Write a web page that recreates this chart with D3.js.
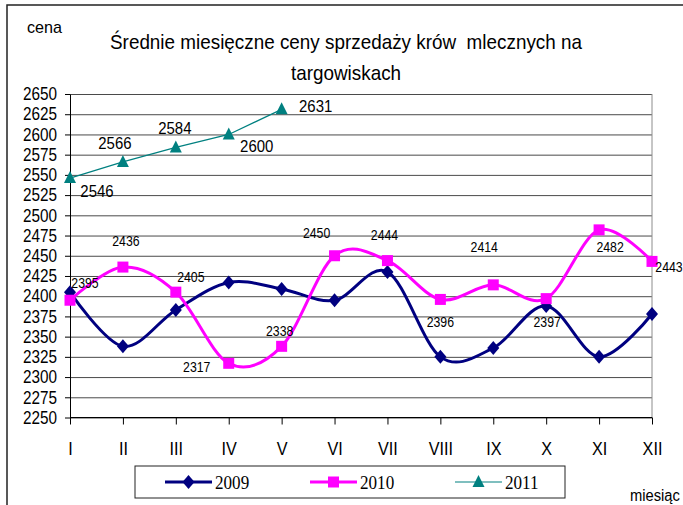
<!DOCTYPE html>
<html lang="pl">
<head>
<meta charset="UTF-8">
<title>Średnie miesięczne ceny sprzedaży krów mlecznych</title>
<script src="https://d3js.org/d3.v7.min.js"></script>
<style>
    body { margin: 0; background: #fff; }
    svg { display: block; }
    .grid line { stroke: #4a4a4a; stroke-width: 1px; }
    .grid path { display: none; }
    .axis path, .axis line { stroke: #000; stroke-width: 1px; }
</style>
</head>
<body>
<svg width="683" height="505"></svg>
<script>
    // dane
    const months = ["I", "II", "III", "IV", "V", "VI", "VII", "VIII", "IX", "X", "XI", "XII"];
    const v2009 = [2405, 2338, 2383, 2417, 2409, 2395, 2430, 2325, 2336, 2388, 2325, 2378];
    const v2010 = [2395, 2436, 2405, 2317, 2338, 2450, 2444, 2396, 2414, 2397, 2482, 2443];
    const v2011 = [2546, 2566, 2584, 2600, 2631];
    const yTicks = [2250, 2275, 2300, 2325, 2350, 2375, 2400, 2425, 2450, 2475, 2500, 2525, 2550, 2575, 2600, 2625, 2650];
    const seriesNames = ["2009", "2010", "2011"];

    // przesunięcia etykiet (ręcznie ustawione jak w Excelu)
    const off2010 = [[15, -17], [3, -26], [15, -15], [-32, 3], [-2, -16], [-18, -23], [-3, -26], [0, 22], [-9, -38], [1, 23], [11, 17], [17, 5]];
    const off2011 = [[27, 13], [-8, -19], [-1, -19], [28, 12], [34, -3]];

    const svg = d3.select("svg");
    const sans = "'Liberation Sans', Arial, sans-serif";

    function label(parent, x, y, str, o) {
        const g = parent.append("g")
            .attr("transform", `translate(${x},${y}) scale(${o.sx || 1},1)`);
        return g.append("text")
            .attr("text-anchor", o.anchor || "middle")
            .attr("dy", "0.35em")
            .style("font-family", o.family || sans)
            .style("font-size", o.size + "px")
            .style("fill", "#000")
            .text(str);
    }

    // ramka
    svg.append("rect")
        .attr("x", 7).attr("y", 5).attr("width", 720).attr("height", 540)
        .attr("fill", "none").attr("stroke", "#222").attr("stroke-width", 1.5);

    const x = d3.scalePoint().domain(months).range([70, 652]);
    const y = d3.scaleLinear().domain([2250, 2650]).range([417.5, 94]);

    // siatka
    svg.append("g")
        .attr("class", "grid")
        .attr("transform", "translate(70,0)")
        .call(d3.axisLeft(y).tickValues(yTicks).tickSize(-(652 - 70)).tickFormat(""));

    svg.append("line")
        .attr("x1", 652).attr("x2", 652).attr("y1", 94).attr("y2", 417.5)
        .attr("stroke", "#8c8c8c");

    // osie
    const yAxis = svg.append("g")
        .attr("class", "axis")
        .attr("transform", "translate(70,0)")
        .call(d3.axisLeft(y).tickValues(yTicks).tickSize(5).tickSizeOuter(0).tickFormat(d3.format("d")));
    yAxis.selectAll("text")
        .attr("x", -13 / 0.85)
        .attr("transform", "scale(0.85,1)")
        .style("font-family", sans)
        .style("font-size", "18px")
        .style("fill", "#000");

    const xAxis = svg.append("g")
        .attr("class", "axis")
        .attr("transform", "translate(0,417.5)")
        .call(d3.axisBottom(x).tickSize(7).tickSizeOuter(0));
    xAxis.selectAll("text")
        .attr("y", 31.5)
        .attr("dy", "0.35em")
        .attr("transform", "scale(0.9,1)")
        .style("font-family", sans)
        .style("font-size", "18px")
        .style("fill", "#000");
    xAxis.select(".domain").attr("d", "M70,0H652");

    // linie
    const smooth = d3.line()
        .x((d, i) => x(months[i]))
        .y(d => y(d))
        .curve(d3.curveCardinal.tension(0));
    const straight = d3.line()
        .x((d, i) => x(months[i]))
        .y(d => y(d));

    svg.append("path").datum(v2009)
        .attr("d", smooth).attr("fill", "none")
        .attr("stroke", "#000080").attr("stroke-width", 3);
    svg.append("path").datum(v2010)
        .attr("d", smooth).attr("fill", "none")
        .attr("stroke", "#ff00ff").attr("stroke-width", 3);
    svg.append("path").datum(v2011)
        .attr("d", straight).attr("fill", "none")
        .attr("stroke", "#008080").attr("stroke-width", 1.2);

    // znaczniki
    const diamond = "M0,-7L6,0L0,7L-6,0Z";
    const square = "M-5.5,-5.5H5.5V5.5H-5.5Z";
    const triangle = "M0,-7L6,5H-6Z";

    svg.selectAll(".m2009").data(v2009).enter().append("path")
        .attr("class", "m2009")
        .attr("transform", (d, i) => `translate(${x(months[i])},${y(d)})`)
        .attr("d", diamond).attr("fill", "#000080");
    svg.selectAll(".m2010").data(v2010).enter().append("path")
        .attr("class", "m2010")
        .attr("transform", (d, i) => `translate(${x(months[i])},${y(d)})`)
        .attr("d", square).attr("fill", "#ff00ff");
    svg.selectAll(".m2011").data(v2011).enter().append("path")
        .attr("class", "m2011")
        .attr("transform", (d, i) => `translate(${x(months[i])},${y(d)})`)
        .attr("d", triangle).attr("fill", "#008080");

    // etykiety danych
    v2010.forEach((v, i) => {
        label(svg, x(months[i]) + off2010[i][0], y(v) + off2010[i][1], v, { size: 15, sx: 0.82 });
    });
    v2011.forEach((v, i) => {
        label(svg, x(months[i]) + off2011[i][0], y(v) + off2011[i][1], v, { size: 17, sx: 0.88 });
    });

    // tytuł
    const t1 = label(svg, 346, 42, "Średnie miesięczne ceny sprzedaży krów  mlecznych na", { size: 20 });
    const w1 = t1.node().getComputedTextLength();
    const sxT = 467 / w1;
    t1.node().parentNode.setAttribute("transform", `translate(346,42) scale(${sxT},1)`);
    t1.style("white-space", "pre");
    label(svg, 346, 73, "targowiskach", { size: 20, sx: sxT });

    label(svg, 27, 27, "cena", { size: 17, sx: 0.95, anchor: "start" });
    label(svg, 630, 495, "miesiąc", { size: 16, sx: 0.92, anchor: "start" });

    // legenda
    const legend = svg.append("g");
    legend.append("rect")
        .attr("x", 135).attr("y", 466).attr("width", 430).attr("height", 32)
        .attr("fill", "#fff").attr("stroke", "#222").attr("stroke-width", 1);
    const legColors = ["#000080", "#ff00ff", "#008080"];
    const legWidths = [3, 3, 1.2];
    const legShapes = [diamond, square, triangle];
    seriesNames.forEach((name, i) => {
        const lx = 165 + i * 145;
        legend.append("line")
            .attr("x1", lx).attr("x2", lx + 47).attr("y1", 482).attr("y2", 482)
            .attr("stroke", legColors[i]).attr("stroke-width", legWidths[i]);
        legend.append("path")
            .attr("transform", `translate(${lx + 23.5},482)`)
            .attr("d", legShapes[i]).attr("fill", legColors[i]);
        label(legend, lx + 50, 482, name, { size: 19, sx: 0.9, anchor: "start", family: "'Liberation Serif', 'Times New Roman', serif" });
    });
</script>
</body>
</html>
